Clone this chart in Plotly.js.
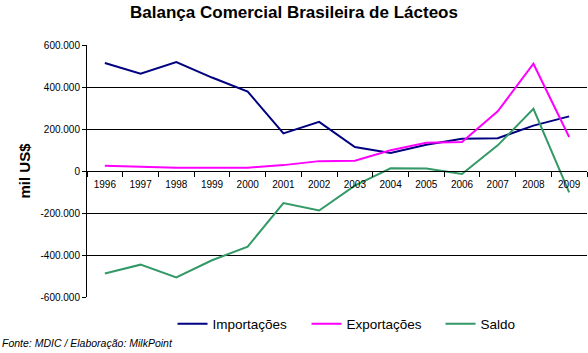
<!DOCTYPE html>
<html>
<head>
<meta charset="utf-8">
<script src="https://cdn.plot.ly/plotly-3.0.1.min.js"></script>
<style>html,body{margin:0;padding:0;background:#fff;}#chart{width:588px;height:353px;}</style>
</head>
<body>
<div id="chart"></div>
<script>
const years = ['1996','1997','1998','1999','2000','2001','2002','2003','2004','2005','2006','2007','2008','2009'];
const importacoes = [514000, 463000, 519000, 445000, 378000, 179000, 234000, 114000, 86000, 125000, 154000, 156000, 216000, 260000];
const exportacoes = [25000, 19000, 16000, 16000, 16000, 28000, 47000, 49000, 99000, 135000, 138000, 284000, 511000, 162000];
const saldo = [-488000, -446000, -507000, -425000, -360000, -153000, -188000, -70000, 13000, 12000, -14000, 122000, 296000, -102000];
const yTickVals = [-600000, -400000, -200000, 0, 200000, 400000, 600000];
const yTickLabels = ['-600.000', '-400.000', '-200.000', '0', '200.000', '400.000', '600.000'];
const seriesNames = ['Importações', 'Exportações', 'Saldo'];

const FONT = 'Liberation Sans, Arial, sans-serif';
const traces = [
  {x: years, y: importacoes, name: seriesNames[0], type: 'scatter', mode: 'lines', line: {color: '#000080', width: 2}},
  {x: years, y: exportacoes, name: seriesNames[1], type: 'scatter', mode: 'lines', line: {color: '#FF00FF', width: 2}},
  {x: years, y: saldo, name: seriesNames[2], type: 'scatter', mode: 'lines', line: {color: '#339966', width: 2}}
];
const layout = {
  width: 588, height: 353,
  margin: {l: 87, r: 1, t: 45, b: 56, autoexpand: false},
  paper_bgcolor: '#fff', plot_bgcolor: '#fff',
  font: {family: FONT, color: '#000', size: 10},
  title: {text: '<b>Balança Comercial Brasileira de Lácteos</b>', x: 0.5, xref: 'container', xanchor: 'center', y: 1 - 12/353, yref: 'container', yanchor: 'middle', font: {family: FONT, size: 17, color: '#000'}},
  xaxis: {type: 'category', range: [-0.5, 13.5], anchor: 'free', position: 0.5, showline: true, linecolor: '#000', linewidth: 1, ticks: 'outside', tickson: 'boundaries', ticklen: 5, tickcolor: '#000', showgrid: false, zeroline: false, ticklabelstandoff: 4, tickfont: {size: 10, family: FONT, color: '#000'}, fixedrange: true},
  yaxis: {range: [-600000, 600000], tickvals: yTickVals, ticktext: yTickLabels, showline: true, linecolor: '#000', linewidth: 1, ticks: 'outside', ticklen: 4, tickcolor: '#000', showgrid: true, gridcolor: '#000', gridwidth: 1, zeroline: false, tickfont: {size: 10, family: FONT, color: '#000'}, title: {text: '<b>mil US$</b>', font: {size: 15, family: FONT, color: '#000'}, standoff: 6}, fixedrange: true},
  showlegend: true,
  legend: {orientation: 'h', x: 0.171, xanchor: 'left', y: -0.107, yanchor: 'middle', font: {size: 13.5, family: FONT, color: '#000'}, bgcolor: 'rgba(0,0,0,0)', entrywidth: 89, entrywidthmode: 'pixels', traceorder: 'normal'},
  annotations: [{text: '<i>Fonte: MDIC / Elaboração: MilkPoint</i>', xref: 'paper', yref: 'paper', x: -87/500, y: (297-343)/252, xanchor: 'left', yanchor: 'middle', showarrow: false, font: {size: 10.5, family: FONT, color: '#000'}}]
};
Plotly.newPlot('chart', traces, layout, {displayModeBar: false, staticPlot: true});
</script>
</body>
</html>
